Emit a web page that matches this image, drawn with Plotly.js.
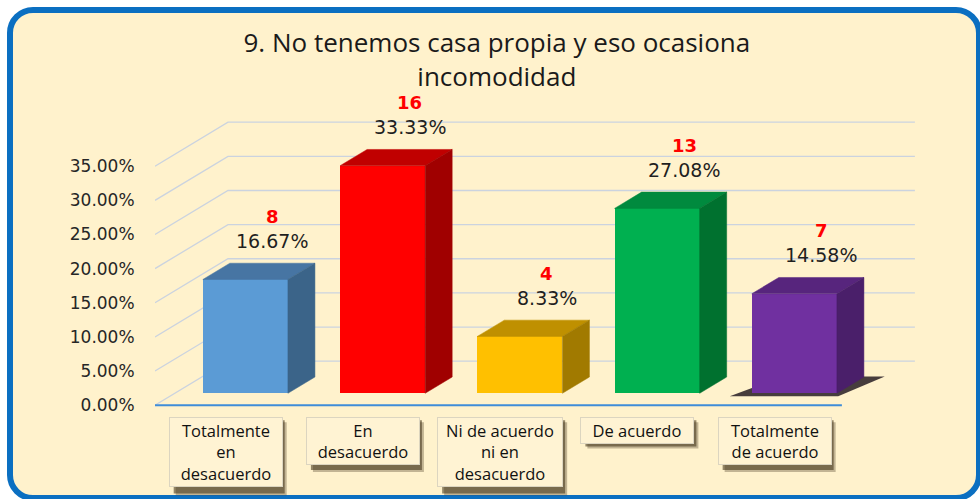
<!DOCTYPE html>
<html><head><meta charset="utf-8">
<script src="https://cdn.plot.ly/plotly-3.0.1.min.js"></script>
<style>
html,body{margin:0;padding:0;background:#fff;width:980px;height:499px;overflow:hidden}
#frame{position:absolute;left:7px;top:7px;width:963px;height:482px;border:6px solid #0B6FC1;border-radius:26px;background:#FFF2CC;box-sizing:content-box}
#chart{position:absolute;left:0;top:0;width:980px;height:499px}
</style></head><body>
<div id="frame"></div><div id="chart"></div>
<script>
// ---- data ----
const chartTitle = "9. No tenemos casa propia y eso ocasiona<br>incomodidad";
const categories = ["Totalmente<br>en<br>desacuerdo", "En<br>desacuerdo", "Ni de acuerdo<br>ni en<br>desacuerdo", "De acuerdo", "Totalmente<br>de acuerdo"];
const counts = [8, 16, 4, 13, 7];
const percents = [16.67, 33.33, 8.33, 27.08, 14.58];
const tickValues = [0, 5, 10, 15, 20, 25, 30, 35];
const tickLabels = ["0.00%", "5.00%", "10.00%", "15.00%", "20.00%", "25.00%", "30.00%", "35.00%"];

// ---- styles ----
const frontColors = ["#5B9BD5", "#FF0000", "#FFC000", "#00B050", "#7030A0"];
const topColors   = ["#4775A3", "#C00000", "#BF9000", "#008A3E", "#57257D"];
const sideColors  = ["#3B6489", "#A00000", "#A17A00", "#00712F", "#4A1F6A"];
const boxWidths   = [110, 110, 122, 110, 110];
const shadowBars  = [4];
const CAT_FONT = 16.5;

// ---- geometry ----
const W = 980, H = 499, L = 155, R = 64, T = 115, B = 87;
const X_RANGE = [-0.515, 5.03], Y_RANGE = [-1, 42.5];
const pxPerCat = (W - L - R) / (X_RANGE[1] - X_RANGE[0]);
const pxPerPct = (H - T - B) / (Y_RANGE[1] - Y_RANGE[0]);
const DEPTH_DX = 73, DEPTH_DY = 44;
const dC = DEPTH_DX / pxPerCat, dV = DEPTH_DY / pxPerPct;
const FLOOR = [-0.515, 4.49];
const BAR_HALF = 0.31, D_FRONT = 0.27, D_BACK = 0.64;
const BOX_GAP = 12;
function proj(c, v, d) { return [c + d * dC, v + d * dV]; }

const shapes = [];
// back wall + side wall gridlines
tickValues.forEach(tv => {
  const a = proj(FLOOR[0], tv, 0), b = proj(FLOOR[0], tv, 1), c = proj(FLOOR[1], tv, 1);
  shapes.push({type: 'path', xref: 'x', yref: 'y', layer: 'below',
    path: `M ${a[0]},${a[1]} L ${b[0]},${b[1]} L ${c[0]},${c[1]}`,
    line: {color: '#CBD3DF', width: 1.3}});
});
// shadow under selected bars
shadowBars.forEach(i => {
  const pts = [proj(i - BAR_HALF - 0.15, -0.3, D_FRONT - 0.02), proj(i + BAR_HALF + 0.02, -0.3, D_FRONT - 0.02),
               proj(i + BAR_HALF + 0.12, -0.3, D_BACK + 0.06), proj(i - BAR_HALF, -0.3, D_BACK + 0.06)];
  shapes.push({type: 'path', xref: 'x', yref: 'y', layer: 'below',
    path: 'M ' + pts.map(p => p[0] + ',' + p[1]).join(' L ') + ' Z',
    fillcolor: 'rgba(25,15,25,0.8)', line: {width: 0}});
});
// front floor axis line
shapes.push({type: 'line', xref: 'x', yref: 'y', x0: FLOOR[0], x1: FLOOR[1], y0: 0, y1: 0,
  line: {color: '#3F8DD8', width: 2}});
// drop shadows of the category boxes (pixel-sized, anchored at the plot bottom)
const axisPx = T + Y_RANGE[1] * pxPerPct;      // pixel row of the 0 line
const plotBottomPx = H - B;
categories.forEach((cat, i) => {
  const lines = cat.split('<br>').length;
  const h = lines * CAT_FONT * 1.42 + 3;
  const topPx = axisPx + BOX_GAP;
  [[5, 'rgba(80,65,40,0.35)'], [3, 'rgba(60,45,20,0.55)']].forEach(([off, col]) => {
    shapes.push({type: 'rect', xref: 'x', xsizemode: 'pixel', xanchor: i,
      x0: -boxWidths[i] / 2 + off, x1: boxWidths[i] / 2 + 1 + off,
      yref: 'paper', ysizemode: 'pixel', yanchor: 0,
      y0: plotBottomPx - (topPx + off), y1: plotBottomPx - (topPx + h + off),
      fillcolor: col, line: {width: 0}, layer: 'above'});
  });
});

const idx = percents.map((_, i) => i);
const traces = [];
// front faces
traces.push({type: 'bar', x: idx.map(i => i + D_FRONT * dC), y: percents,
  base: D_FRONT * dV, width: 2 * BAR_HALF,
  marker: {color: frontColors, line: {width: 0}}, hoverinfo: 'skip', showlegend: false});
// top and side faces
idx.forEach(i => {
  const v = percents[i];
  const top = [proj(i - BAR_HALF, v, D_FRONT), proj(i - BAR_HALF, v, D_BACK), proj(i + BAR_HALF, v, D_BACK), proj(i + BAR_HALF, v, D_FRONT)];
  const side = [proj(i + BAR_HALF, v, D_FRONT), proj(i + BAR_HALF, v, D_BACK), proj(i + BAR_HALF, 0, D_BACK), proj(i + BAR_HALF, 0, D_FRONT)];
  [[top, topColors[i]], [side, sideColors[i]]].forEach(([pts, col]) => {
    traces.push({type: 'scatter', mode: 'lines', fill: 'toself', fillcolor: col,
      x: pts.map(p => p[0]).concat([pts[0][0]]), y: pts.map(p => p[1]).concat([pts[0][1]]),
      line: {color: col, width: 0.5}, hoverinfo: 'skip', showlegend: false});
  });
});

const annotations = [];
idx.forEach(i => {
  annotations.push({x: i + D_BACK * dC, y: percents[i] + D_BACK * dV, xref: 'x', yref: 'y',
    text: percents[i].toFixed(2) + '%', showarrow: false, yanchor: 'middle', yshift: 22,
    font: {family: 'DejaVu Sans', size: 19, color: '#1f1f1f'}});
  annotations.push({x: i + D_BACK * dC, y: percents[i] + D_BACK * dV, xref: 'x', yref: 'y',
    text: '<b>' + counts[i] + '</b>', showarrow: false, yanchor: 'middle', yshift: 47,
    font: {family: 'DejaVu Sans', size: 18, color: '#FF0000'}});
  annotations.push({x: i, y: 0, xref: 'x', yref: 'y', text: categories[i], showarrow: false,
    yanchor: 'top', xanchor: 'center', yshift: -BOX_GAP, width: boxWidths[i], align: 'center',
    bgcolor: '#FFF3D3', borderpad: 1, borderwidth: 1, bordercolor: '#DCD5C0',
    font: {family: 'Open Sans', size: CAT_FONT, color: '#111111'}});
});

const layout = {
  width: W, height: H,
  margin: {l: L, r: R, t: T, b: B},
  paper_bgcolor: 'rgba(0,0,0,0)', plot_bgcolor: 'rgba(0,0,0,0)',
  title: {text: chartTitle, x: 0.507, xanchor: 'center', xref: 'container',
    y: 1 - 52 / H, yref: 'container', yanchor: 'top',
    font: {family: 'Open Sans', size: 26, color: '#1a1a1a'}},
  xaxis: {type: 'linear', range: X_RANGE, showgrid: false, zeroline: false, showline: false,
    showticklabels: false, ticks: '', fixedrange: true},
  yaxis: {type: 'linear', range: Y_RANGE, showgrid: false, zeroline: false, showline: false,
    tickvals: tickValues, ticktext: tickLabels, ticks: 'outside', ticklen: 16, tickcolor: 'rgba(0,0,0,0)',
    tickfont: {family: 'DejaVu Sans', size: 17, color: '#262626'}, fixedrange: true},
  bargap: 0, shapes: shapes, annotations: annotations, showlegend: false
};
Plotly.newPlot('chart', traces, layout, {displayModeBar: false, staticPlot: true});
</script></body></html>
